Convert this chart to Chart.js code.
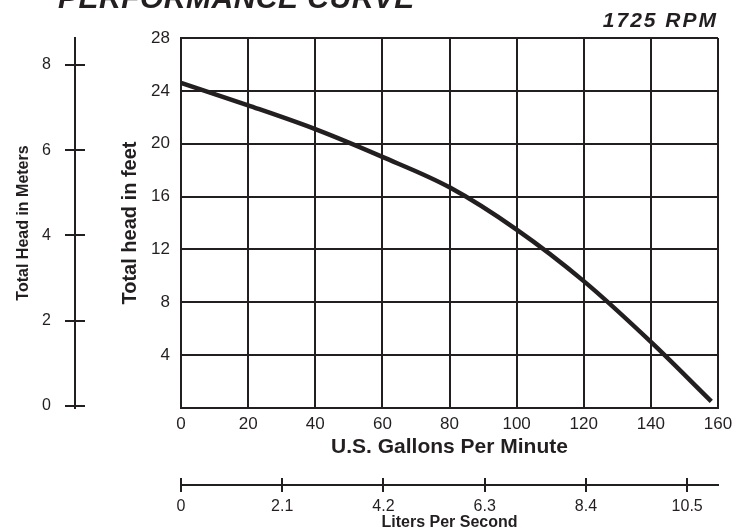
<!DOCTYPE html>
<html>
<head>
<meta charset="utf-8">
<script src="https://cdn.jsdelivr.net/npm/chart.js@4.4.1/dist/chart.umd.min.js"></script>
<style>
  html, body { margin: 0; padding: 0; background: #fff; }
</style>
</head>
<body>
<canvas id="pump_curve" width="745" height="531"></canvas>
<script>
// curve (gpm -> total head in feet)
const gpm = [0, 20, 40, 60, 80, 100, 120, 140, 158];
const headFeet = [24.6, 22.9, 21.1, 19.0, 16.7, 13.5, 9.6, 5.0, 0.5];
const meterTicks = [0, 2, 4, 6, 8];
const literTicks = [0, 2.1, 4.2, 6.3, 8.4, 10.5];
const chartTitle = 'PERFORMANCE CURVE';
const speedLabel = '1725 RPM';

const ink = '#231f20';
const family = "'Liberation Sans', Arial, Helvetica, sans-serif";

// small stubs on the inner side of the meters / liters axes + headings
const extras = {
    id: 'extras',
    afterDraw(chart) {
        let ctx = chart.ctx;
        let ym = chart.scales.ym;
        let xl = chart.scales.xl;
        ctx.save();
        ctx.strokeStyle = ink;
        ctx.lineWidth = 2;
        ctx.beginPath();
        ym.ticks.forEach(t => {
            let y = Math.round(ym.getPixelForValue(t.value));
            ctx.moveTo(ym.right, y);
            ctx.lineTo(ym.right + 10, y);
        });
        xl.ticks.forEach(t => {
            let x = Math.round(xl.getPixelForValue(t.value));
            ctx.moveTo(x, xl.top);
            ctx.lineTo(x, xl.top - 7);
        });
        ctx.stroke();

        ctx.fillStyle = ink;
        ctx.textBaseline = 'alphabetic';
        ctx.font = `italic bold 30px ${family}`;
        ctx.letterSpacing = '0.5px';
        ctx.textAlign = 'left';
        ctx.fillText(chartTitle, 58, 8);
        ctx.font = `italic bold 21px ${family}`;
        ctx.letterSpacing = '2px';
        ctx.textAlign = 'right';
        ctx.fillText(speedLabel, 718, 27);
        ctx.restore();
    }
};

let canvas = document.querySelector('#pump_curve');
new Chart(canvas, {
    type: 'line',
    data: {
        datasets: [{
            data: gpm.map((g, i) => ({ x: g, y: headFeet[i] })),
            borderColor: ink,
            borderWidth: 4.5,
            pointRadius: 0,
            cubicInterpolationMode: 'monotone',
            fill: false
        }]
    },
    options: {
        responsive: false,
        animation: false,
        layout: { padding: { left: 0, right: 27, top: 38, bottom: 0 } },
        plugins: {
            legend: { display: false },
            tooltip: { enabled: false }
        },
        scales: {
            x: {
                type: 'linear',
                position: 'bottom',
                weight: 0,
                min: 0,
                max: 160,
                afterFit: s => { s.height = 77; },
                ticks: { stepSize: 20, padding: 6, color: ink, maxRotation: 0, autoSkip: false, font: { family: family, size: 17 } },
                grid: { color: ink, lineWidth: 2, drawTicks: false },
                border: { color: ink, width: 2 },
                title: {
                    display: true,
                    text: 'U.S. Gallons Per Minute',
                    color: ink,
                    font: { family: family, size: 21, weight: 'bold', lineHeight: 1.2 },
                    padding: { top: 0, bottom: 25 }
                }
            },
            xl: {
                type: 'linear',
                position: 'bottom',
                weight: 1,
                min: 0,
                max: 11.14,
                afterFit: s => { s.height = 46; },
                afterBuildTicks: s => { s.ticks = literTicks.map(v => ({ value: v })); },
                ticks: { padding: 5, color: ink, maxRotation: 0, autoSkip: false, font: { family: family, size: 16 }, callback: v => String(v) },
                grid: { drawOnChartArea: false, color: ink, lineWidth: 2, tickLength: 7 },
                border: { color: ink, width: 2 },
                title: {
                    display: true,
                    text: 'Liters Per Second',
                    color: ink,
                    font: { family: family, size: 16, weight: 'bold', lineHeight: 1 },
                    padding: { top: 0, bottom: 0 }
                }
            },
            y: {
                type: 'linear',
                position: 'left',
                weight: 0,
                min: 0,
                max: 28,
                afterFit: s => { s.width = 106; },
                ticks: { stepSize: 4, padding: 11, color: ink, font: { family: family, size: 17 }, callback: v => v === 0 ? '' : v },
                grid: { color: ink, lineWidth: 2, drawTicks: false },
                border: { color: ink, width: 2 },
                title: {
                    display: true,
                    text: 'Total head in feet',
                    color: ink,
                    font: { family: family, size: 20, weight: 'bold', lineHeight: 1.2 },
                    padding: { top: 43, bottom: 0 }
                }
            },
            ym: {
                type: 'linear',
                position: 'left',
                weight: 1,
                min: -0.05,
                max: 8.63,
                afterFit: s => { s.width = 75; },
                afterBuildTicks: s => { s.ticks = meterTicks.map(v => ({ value: v })); },
                ticks: { padding: 14, color: ink, font: { family: family, size: 16 } },
                grid: { drawOnChartArea: false, color: ink, lineWidth: 2, tickLength: 10 },
                border: { color: ink, width: 2 },
                title: {
                    display: true,
                    text: 'Total Head in Meters',
                    color: ink,
                    font: { family: family, size: 16, weight: 'bold', lineHeight: 1.2 },
                    padding: { top: 14, bottom: 0 }
                }
            }
        }
    },
    plugins: [extras]
});
</script>
</body>
</html>
